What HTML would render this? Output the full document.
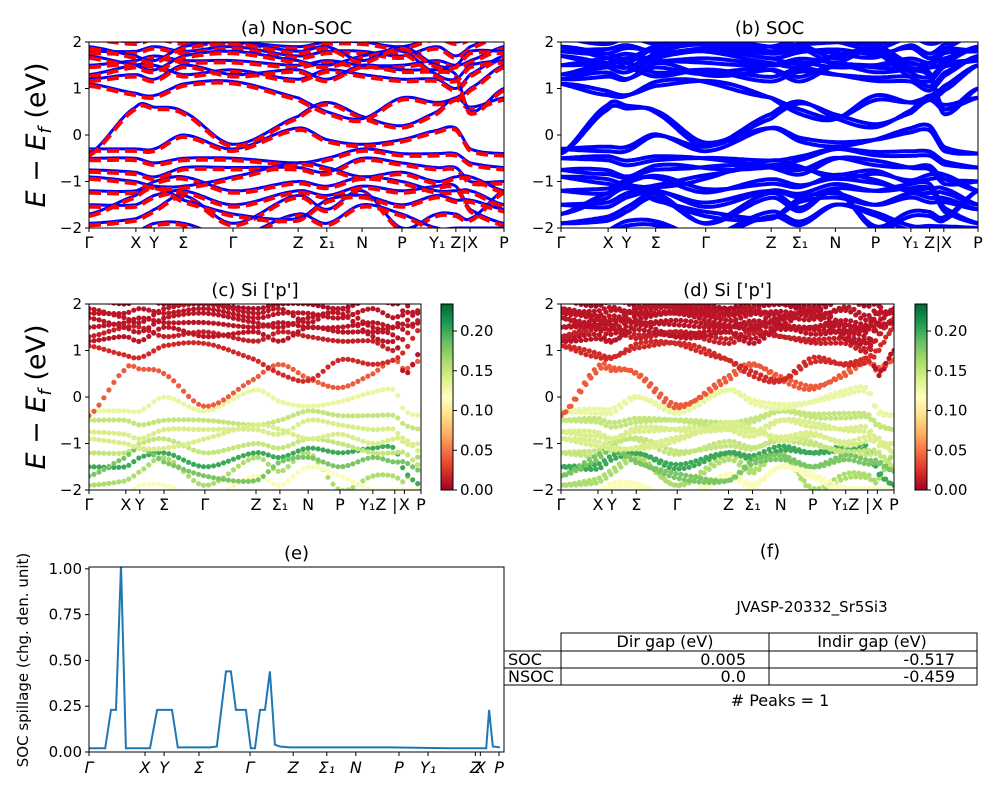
<!DOCTYPE html>
<html><head><meta charset="utf-8"><style>
html,body{margin:0;padding:0;background:#fff;}
svg{display:block;font-family:"DejaVu Sans","Liberation Sans",sans-serif;}
</style></head><body>
<svg id="fig" width="1000" height="800" viewBox="0 0 1000 800"></svg>
<script>
// ---- data ----
const kLabelsTop = ["Γ","X","Y","Σ","Γ","Z","Σ₁","N","P","Y₁","Z","|X","P"];
const kNodesTop = [0,0.113,0.157,0.227,0.347,0.504,0.573,0.658,0.754,0.839,0.884,0.918,1];
const bands = [
 [-1.9,-1.8,-1.6,-1.3,-1.9,-1.3,-1.6,-1.2,-2.0,-1.7,-1.7,-1.8,-1.2],
 [-1.5,-1.5,-1.3,-1.2,-1.5,-1.2,-1.3,-1.1,-1.2,-1.1,-1.1,-1.6,-1.9],
 [-1.2,-1.2,-1.0,-0.9,-1.2,-1.0,-1.1,-0.9,-1.0,-1.2,-1.2,-1.2,-1.5],
 [-0.75,-0.8,-0.9,-0.7,-0.7,-0.7,-0.8,-0.5,-0.6,-0.7,-0.7,-1.0,-1.0],
 [-0.5,-0.5,-0.6,-0.5,-0.5,-0.6,-0.5,-0.3,-0.4,-0.4,-0.4,-0.6,-0.7],
 [-0.3,-0.3,-0.3,0.0,-0.3,0.15,-0.1,-0.2,-0.1,0.1,0.15,-0.3,-0.4],
 [-0.4,0.6,0.6,0.5,-0.2,0.4,0.7,0.4,0.2,0.5,0.8,0.6,0.8],
 [1.1,0.9,0.85,1.1,1.15,0.8,0.5,0.35,0.8,0.7,0.8,1.0,1.5],
 [1.3,1.5,1.5,1.3,1.4,1.2,1.4,1.3,1.2,1.2,1.0,1.3,1.7],
 [1.5,1.6,1.7,1.6,1.6,1.5,1.6,1.5,1.5,1.6,1.5,1.6,1.9],
 [1.8,1.8,1.9,1.8,1.9,1.7,1.8,1.8,1.7,1.9,1.7,1.9,2.2],
 [2.1,2.0,2.1,2.0,2.0,1.9,2.0,2.0,1.9,2.1,2.0,2.1,2.4],
 [-2.3,-2.1,-1.9,-1.9,-2.2,-1.7,-1.9,-1.5,-1.7,-2.0,-2.0,-2.0,-2.0],
 [-1.7,-1.3,-1.1,-1.4,-1.7,-1.8,-1.4,-1.3,-1.5,-1.3,-1.4,-1.4,-1.6],
 [-0.9,-1.0,-1.1,-1.1,-0.9,-0.6,-0.7,-0.9,-0.8,-1.0,-0.9,-0.9,-1.2],
 [1.2,1.3,1.2,1.5,1.3,1.4,1.2,1.5,1.4,1.4,1.3,0.5,1.0],
 [1.7,1.5,1.4,1.7,1.8,1.6,1.5,1.7,1.8,1.3,1.2,1.5,1.6],
 [1.9,1.7,1.6,1.9,2.0,1.8,1.9,1.6,1.9,1.5,1.5,1.8,1.8]
];
const bandWeights = [0.16,0.20,0.15,0.14,0.15,0.13,0.04,0.02,0.015,0.01,0.01,0.005,0.12,0.18,0.14,0.01,0.01,0.01];
const kLabelsC = ["Γ","X","Y","Σ","Γ","Z","Σ₁","N","P","Y₁Z","|","X","P"];
const kNodesC = [0,0.111,0.153,0.226,0.349,0.503,0.575,0.660,0.756,0.855,0.921,0.950,1];
const yTicks = [-2,-1,0,1,2];
const cbTicks = [0,0.05,0.1,0.15,0.2];
const cbMax = 0.234;
const spillK = [0,0.039,0.053,0.065,0.077,0.089,0.147,0.164,0.200,0.214,0.292,0.308,0.330,0.342,0.354,0.378,0.390,0.400,0.412,0.424,0.436,0.448,0.460,0.484,0.605,0.725,0.87,0.957,0.964,0.973,0.99];
const spillV = [0.02,0.02,0.23,0.23,1.02,0.02,0.02,0.23,0.23,0.025,0.025,0.03,0.44,0.44,0.23,0.23,0.02,0.02,0.23,0.23,0.44,0.04,0.03,0.025,0.025,0.025,0.02,0.02,0.23,0.03,0.025];
const spillTickLabels = ["Γ","X","Y","Σ","Γ","Z","Σ₁","N","P","Y₁","Z","X","P"];
const spillTicks = [0,0.135,0.181,0.265,0.388,0.492,0.573,0.643,0.747,0.817,0.931,0.943,0.988];
const spillYTicks = [0,0.25,0.5,0.75,1.0];

const NS="http://www.w3.org/2000/svg";
const svg=document.getElementById('fig');
function el(tag,attrs,parent){const e=document.createElementNS(NS,tag);for(const k in attrs)e.setAttribute(k,attrs[k]);(parent||svg).appendChild(e);return e;}
function txt(s,x,y,size,anchor,parent,extra){const t=el('text',Object.assign({x:x,y:y,'font-size':size,'text-anchor':anchor||'middle',fill:'#000'},extra||{}),parent);t.textContent=s;return t;}

const cmapStops=[[0,'#a50026'],[0.1,'#d73027'],[0.2,'#f46d43'],[0.3,'#fdae61'],[0.4,'#fee08b'],[0.5,'#ffffbf'],[0.6,'#d9ef8b'],[0.7,'#a6d96a'],[0.8,'#66bd63'],[0.9,'#1a9850'],[1,'#006837']];
function hex(h){return [parseInt(h.substr(1,2),16),parseInt(h.substr(3,2),16),parseInt(h.substr(5,2),16)];}
function cmap(t){t=Math.max(0,Math.min(1,t));for(let i=0;i<cmapStops.length-1;i++){const a=cmapStops[i],b=cmapStops[i+1];if(t<=b[0]){const f=(t-a[0])/(b[0]-a[0]);const ca=hex(a[1]),cb=hex(b[1]);return 'rgb('+ca.map((v,j)=>Math.round(v+(cb[j]-v)*f)).join(',')+')';}}return cmapStops[cmapStops.length-1][1];}

function bandSample(vals,nodes,f){
  let i=0;while(i<nodes.length-2&&f>nodes[i+1])i++;
  const t=(f-nodes[i])/(nodes[i+1]-nodes[i]);
  const p0=vals[Math.max(0,i-1)],p1=vals[i],p2=vals[i+1],p3=vals[Math.min(vals.length-1,i+2)];
  const t2=t*t,t3=t2*t;
  return 0.5*((2*p1)+(-p0+p2)*t+(2*p0-5*p1+4*p2-p3)*t2+(-p0+3*p1-3*p2+p3)*t3);
}

function axesFrame(g,x0,y0,w,h,name){
  el('rect',{x:x0,y:y0,width:w,height:h,fill:'none',stroke:'#000','stroke-width':1,},g);
}
function bandAxes(id,x0,y0,w,h,title,labels,nodes,mode,split){
  const g=el('g',{});
  const sx=f=>x0+f*w, sy=e=>y0+h-(e+2)/4*h;
  const clipId='clip-'+id;
  const cp=el('clipPath',{id:clipId},g);el('rect',{x:x0,y:y0,width:w,height:h},cp);
  const pg=el('g',{'clip-path':'url(#'+clipId+')'},g);
  const offsets=split?[-split,split]:[0];
  bands.forEach((b,bi)=>{
   offsets.forEach((off,oi)=>{
    const pts=[];const N=200;
    for(let s=0;s<=N;s++){const f=s/N;const sp=off*Math.sin(f*Math.PI*(3+bi%4));pts.push([sx(f),sy(bandSample(b,nodes,f)+sp)]);}
    if(mode==='scatter'){
      const step=Math.max(1,Math.round(N/(w/5)));
      for(let s=(oi*2)%step;s<=N;s+=step){const c=el('circle',{cx:pts[s][0].toFixed(1),cy:pts[s][1].toFixed(1),r:2.6,fill:cmap(bandWeights[bi]/cbMax)},pg);
        }
    } else {
      const d='M'+pts.map(p=>p[0].toFixed(1)+','+p[1].toFixed(1)).join('L');
      const p=el('path',{d:d,fill:'none',stroke:'#0000ff','stroke-width':mode==='soc'?4:3},pg);
      
      if(mode==='nonsoc'){
        const d2='M'+pts.map(p=>p[0].toFixed(1)+','+(p[1]+2).toFixed(1)).join('L');
        const r=el('path',{d:d2,fill:'none',stroke:'#ff0000','stroke-width':4,'stroke-dasharray':'12,6'},pg);
        
      }
    }
   });
  });
  axesFrame(g,x0,y0,w,h,id);
  yTicks.forEach(v=>{el('line',{x1:x0-4,x2:x0,y1:sy(v),y2:sy(v),stroke:'#000'},g);txt(v<0?'−'+(-v):String(v),x0-7,sy(v)+5,15,'end',g);});
  nodes.forEach((f,i)=>{el('line',{x1:sx(f),x2:sx(f),y1:y0+h,y2:y0+h+4,stroke:'#000'},g);
    txt(labels[i],sx(f),y0+h+20,16,'middle',g);});
  txt(title,x0+w/2,y0-8,18,'middle',g,{});
}
function ylabel(cy){const t=txt('',45,cy,27,'middle',null,{transform:'rotate(-90 45 '+cy+')',});
  t.innerHTML='<tspan font-style="italic">E</tspan> − <tspan font-style="italic">E</tspan><tspan font-style="italic" font-size="18" dy="6">f</tspan><tspan dy="-6"> (eV)</tspan>';}
function colorbar(x0,y0,w,h,id){
  const g=el('g',{});
  const gid='grad-'+id;const defs=el('defs',{},g);
  const lg=el('linearGradient',{id:gid,x1:0,y1:1,x2:0,y2:0},defs);
  cmapStops.forEach(s=>el('stop',{offset:s[0],'stop-color':s[1]},lg));
  el('rect',{x:x0,y:y0,width:w,height:h,fill:'url(#'+gid+')',stroke:'#000','stroke-width':1},g);
  cbTicks.forEach(v=>{const y=y0+h-v/cbMax*h;el('line',{x1:x0+w,x2:x0+w+4,y1:y,y2:y,stroke:'#000'},g);txt(v.toFixed(2),x0+w+7,y+5,15,'start',g);});
}

bandAxes('panel-a-nonsoc',89,42,415,186,'(a) Non-SOC',kLabelsTop,kNodesTop,'nonsoc',0);
bandAxes('panel-b-soc',561,42,417,186,'(b) SOC',kLabelsTop,kNodesTop,'soc',0.05);
bandAxes('panel-c-si-p',89,304,332,186,'(c)  Si [\'p\']',kLabelsC,kNodesC,'scatter',0);
bandAxes('panel-d-si-p',561,304,333,186,'(d) Si [\'p\']',kLabelsC,kNodesC,'scatter',0.05);
colorbar(441,304,12,186,'colorbar-c');
colorbar(915,304,12,186,'colorbar-d');
ylabel(135);ylabel(397);

(function(){
  const x0=89,y0=567,w=415,h=185;
  const g=el('g',{});
  const sx=f=>x0+f*w, sy=v=>y0+h-v/1.01*h;
  const cp=el('clipPath',{id:'clip-e'},g);el('rect',{x:x0,y:y0,width:w,height:h},cp);
  const d='M'+spillK.map((k,i)=>sx(k).toFixed(1)+','+sy(spillV[i]).toFixed(1)).join('L');
  const p=el('path',{d:d,fill:'none',stroke:'#1f77b4','stroke-width':2,'clip-path':'url(#clip-e)'},g);
  
  axesFrame(g,x0,y0,w,h,'panel-e');
  spillYTicks.forEach(v=>{el('line',{x1:x0-4,x2:x0,y1:sy(v),y2:sy(v),stroke:'#000'},g);txt(v.toFixed(2),x0-7,sy(v)+5,15,'end',g);});
  spillTicks.forEach((f,i)=>{el('line',{x1:sx(f),x2:sx(f),y1:y0+h,y2:y0+h+4,stroke:'#000'},g);txt(spillTickLabels[i],sx(f),y0+h+21,16,'middle',g,{'font-style':'italic'});});
  txt('(e)',x0+w/2,y0-8,18,'middle',g);
  txt('SOC spillage (chg. den. unit)',28,660,15,'middle',g,{transform:'rotate(-90 28 660)',});
})();
</script>
<svg x="0" y="0" width="1000" height="800" style="position:absolute;left:0;top:0">
  <text x="770" y="557" font-size="18" text-anchor="middle">(f)</text>
  <text x="812" y="612" font-size="15" text-anchor="middle">JVASP-20332_Sr5Si3</text>
  <g fill="none" stroke="#000" stroke-width="1">
    <rect x="561" y="633" width="416" height="18"/>
    <rect x="504" y="651" width="473" height="17"/>
    <rect x="504" y="668" width="473" height="17"/>
    <line x1="561" y1="651" x2="561" y2="685"/>
    <line x1="769" y1="633" x2="769" y2="685"/>
  </g>
  <g font-size="16" fill="#000">
    <text x="665" y="647" text-anchor="middle">Dir gap (eV)</text>
    <text x="872" y="647" text-anchor="middle">Indir gap (eV)</text>
    <text x="508" y="665">SOC</text>
    <text x="508" y="682">NSOC</text>
    <text x="746" y="665" text-anchor="end">0.005</text>
    <text x="746" y="682" text-anchor="end">0.0</text>
    <text x="955" y="665" text-anchor="end">-0.517</text>
    <text x="955" y="682" text-anchor="end">-0.459</text>
    <text x="780" y="706" text-anchor="middle"># Peaks = 1</text>
  </g>
</svg>
</body></html>
